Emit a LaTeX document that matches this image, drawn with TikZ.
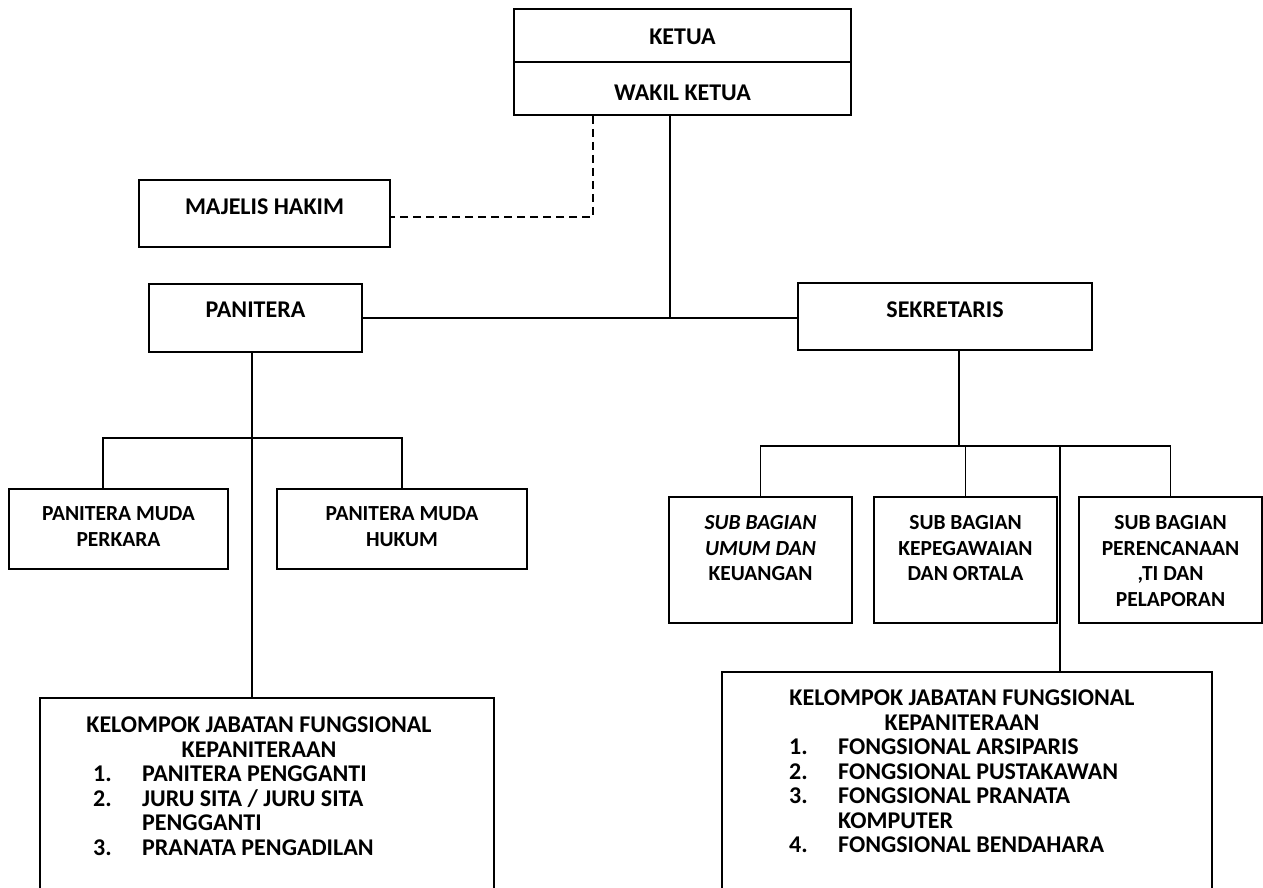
\documentclass[tikz,border=0pt]{standalone}
\usepackage{fontspec}
\setmainfont{Carlito}
\usetikzlibrary{calc}
\newcommand\numcol[1]{\makebox[49pt][l]{#1}}
\begin{document}
\begin{tikzpicture}[x=1pt,y=-1pt,
  box/.style={draw=black, line width=1.8pt, inner sep=0pt, fill=white},
  conn/.style={draw=black, line width=1.8pt},
  dashconn/.style={draw=black, line width=1.8pt, dash pattern=on 8pt off 5pt},
  txt/.style={font=\fontsize{24}{24.5}\selectfont\bfseries, align=center, inner sep=0pt, anchor=north},
  txtm/.style={font=\fontsize{21.5}{25.5}\selectfont\bfseries, align=center, inner sep=0pt, anchor=north},
  lst/.style={font=\fontsize{24}{24.5}\selectfont\bfseries, align=left, inner sep=0pt, anchor=north west}]
\useasboundingbox (0,0) rectangle (1263,888);
\fill[white] (0,0) rectangle (1263,888);
\clip (0,0) rectangle (1263,888);

% boxes
\node[box, minimum width=337pt, minimum height=53pt] (ketua) at (682.5,35.5) {};
\node[box, minimum width=337pt, minimum height=53pt] (wakil) at (682.5,88.5) {};
\node[box, minimum width=251pt, minimum height=67pt] (majelis) at (264.5,213.5) {};
\node[box, minimum width=213pt, minimum height=68pt] (panitera) at (255.5,318) {};
\node[box, minimum width=294pt, minimum height=67pt] (sekretaris) at (945,316.5) {};
\node[box, minimum width=219pt, minimum height=80pt] (perkara) at (118.5,529) {};
\node[box, minimum width=250pt, minimum height=80pt] (hukum) at (402,529) {};
\node[box, minimum width=183pt, minimum height=126pt] (umum) at (760.5,560) {};
\node[box, minimum width=183pt, minimum height=126pt] (kepeg) at (965.5,560) {};
\node[box, minimum width=183pt, minimum height=126pt] (perenc) at (1170.5,560) {};
\node[box, minimum width=454pt, minimum height=222pt] (kel1) at (267,809) {};
\node[box, minimum width=490pt, minimum height=248pt] (kel2) at (967,796) {};

% texts
\node[txt] (tketua) at ([yshift=-20.5pt]ketua.north) {KETUA};
\node[txt] (twakil) at ([yshift=-23.5pt]wakil.north) {WAKIL KETUA};
\node[txt] (tmajelis) at ([yshift=-19.5pt]majelis.north) {MAJELIS HAKIM};
\node[txt] (tpanitera) at ([yshift=-18.5pt]panitera.north) {PANITERA};
\node[txt] (tsekretaris) at ([yshift=-19.5pt]sekretaris.north) {SEKRETARIS};
\node[txtm] (tperkara) at ([yshift=-18.5pt]perkara.north) {PANITERA MUDA\\PERKARA};
\node[txtm] (thukum) at ([yshift=-18.5pt]hukum.north) {PANITERA MUDA\\HUKUM};
\node[txtm] (tumum) at ([yshift=-19.5pt]umum.north) {\itshape SUB BAGIAN\\\itshape UMUM DAN\\ KEUANGAN};
\node[txtm] (tkepeg) at ([yshift=-19.5pt]kepeg.north) {SUB BAGIAN\\KEPEGAWAIAN\\DAN ORTALA};
\node[txtm] (tperenc) at ([yshift=-19.5pt]perenc.north) {SUB BAGIAN\\PERENCANAAN\\,TI DAN\\PELAPORAN};
\node[txt] (tkel1) at (259,717) {KELOMPOK JABATAN FUNGSIONAL\\KEPANITERAAN};
\node[lst] (lkel1) at (93,766) {\numcol{1.}PANITERA PENGGANTI\\\numcol{2.}JURU SITA / JURU SITA\\\numcol{}PENGGANTI\\\numcol{3.}PRANATA PENGADILAN};
\node[txt] (tkel2) at (962,690) {KELOMPOK JABATAN FUNGSIONAL\\KEPANITERAAN};
\node[lst] (lkel2) at (789,739) {\numcol{1.}FONGSIONAL ARSIPARIS\\\numcol{2.}FONGSIONAL PUSTAKAWAN\\\numcol{3.}FONGSIONAL PRANATA\\\numcol{}KOMPUTER\\\numcol{4.}FONGSIONAL BENDAHARA};

% connectors
\draw[dashconn] ([xshift=-89.5pt]wakil.south) |- ([yshift=-3.5pt]majelis.east);
\draw[conn] ([xshift=-12.5pt]wakil.south) -- ([xshift=-12.5pt]wakil.south |- panitera.east);
\draw[conn] (panitera.east) -- (panitera.east -| sekretaris.west);
\coordinate (pbar) at (252,438);
\draw[conn] ([xshift=-3.5pt]panitera.south) -- ([xshift=-3.5pt]panitera.south |- kel1.north);
\draw[conn] ([xshift=-15.5pt]perkara.north) |- (pbar) -| (hukum.north);
\coordinate (sbar) at (959,446);
\draw[conn] ([xshift=14pt]sekretaris.south) -- (sbar);
\draw[conn] (umum.north) |- (sbar) -| (perenc.north);
\draw[conn] (kepeg.north) -- (kepeg.north |- sbar);
\draw[conn] ([xshift=93pt]kel2.north) -- ([xshift=93pt]kel2.north |- sbar);
\end{tikzpicture}
\end{document}
